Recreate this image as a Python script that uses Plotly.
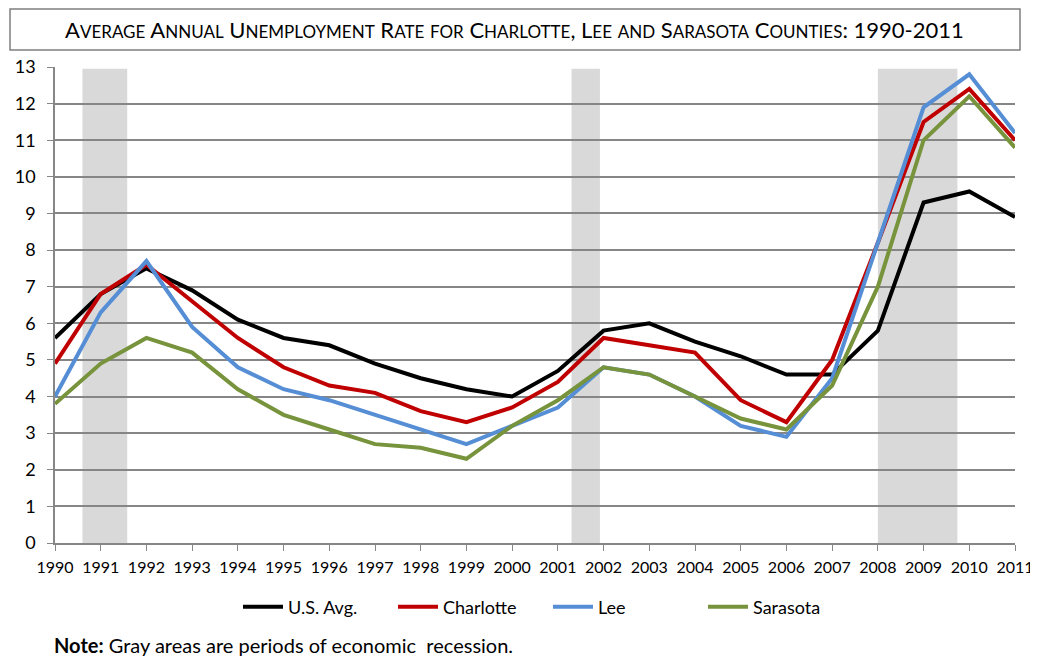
import plotly.graph_objects as go

years = list(range(1990, 2012))
us_avg = [5.6, 6.8, 7.5, 6.9, 6.1, 5.6, 5.4, 4.9, 4.5, 4.2, 4.0, 4.7, 5.8, 6.0, 5.5, 5.1, 4.6, 4.6, 5.8, 9.3, 9.6, 8.9]
charlotte = [4.9, 6.8, 7.6, 6.6, 5.6, 4.8, 4.3, 4.1, 3.6, 3.3, 3.7, 4.4, 5.6, 5.4, 5.2, 3.9, 3.3, 5.0, 8.2, 11.5, 12.4, 11.0]
lee = [4.0, 6.3, 7.7, 5.9, 4.8, 4.2, 3.9, 3.5, 3.1, 2.7, 3.2, 3.7, 4.8, 4.6, 4.0, 3.2, 2.9, 4.5, 8.2, 11.9, 12.8, 11.2]
sarasota = [3.8, 4.9, 5.6, 5.2, 4.2, 3.5, 3.1, 2.7, 2.6, 2.3, 3.2, 3.9, 4.8, 4.6, 4.0, 3.4, 3.1, 4.3, 7.0, 11.0, 12.2, 10.8]
recession_start = [1990.6, 2001.3, 2008.0]
recession_end = [1991.58, 2001.92, 2009.74]
recession_top = 12.95

series = [("U.S. Avg.", us_avg, "#000000"),
          ("Charlotte", charlotte, "#C00000"),
          ("Lee", lee, "#558ED5"),
          ("Sarasota", sarasota, "#77933C")]

FONT = "Lato, 'Open Sans', sans-serif"

# page offset of 8px (body margin) is compensated in the margins
L, T, R, B = 47, 59, 31, 125
W, H = 1038, 660
PW = W - L - R
PH = H - T - B

def px_x(px):
    return (px - 8 - L) / PW

def px_y(py):
    return (H - B + 8 - py) / PH

def small_caps(text, big=22, small=17):
    out = []
    for ch in text:
        if ch.isalpha() and ch.islower():
            out.append(f"<span style='font-size:{small}px'>{ch.upper()}</span>")
        else:
            out.append(f"<span style='font-size:{big}px'>{ch}</span>")
    return "".join(out)

title_text = "Average Annual Unemployment Rate for Charlotte, Lee and Sarasota Counties: 1990-2011"

fig = go.Figure()
for s, e in zip(recession_start, recession_end):
    fig.add_shape(type="rect", x0=s, x1=e, y0=0, y1=recession_top,
                  xref="x", yref="y", fillcolor="#D9D9D9", line=dict(width=0), layer="below")

for name, vals, col in series:
    fig.add_trace(go.Scatter(x=years, y=vals, name=name, mode="lines",
                             line=dict(color=col, width=4), cliponaxis=False))

# title box
fig.add_shape(type="rect", xref="paper", yref="paper",
              x0=px_x(10), x1=px_x(1020), y0=px_y(50), y1=px_y(9),
              line=dict(color="#7F7F7F", width=1.5), fillcolor="rgba(0,0,0,0)")
fig.add_annotation(text=small_caps(title_text), xref="paper", yref="paper",
                   x=px_x(514), y=px_y(29), showarrow=False,
                   xanchor="center", yanchor="middle",
                   font=dict(family=FONT, size=22, color="#000000"))
fig.add_annotation(text="<b>Note:</b> Gray areas are periods of economic  recession.",
                   xref="paper", yref="paper", x=px_x(52), y=px_y(645),
                   showarrow=False, xanchor="left", yanchor="middle",
                   font=dict(family=FONT, size=20, color="#000000"))

fig.update_layout(
    width=W, height=H,
    margin=dict(l=L, r=R, t=T, b=B),
    paper_bgcolor="white", plot_bgcolor="white",
    font=dict(family=FONT, color="#000000"),
    showlegend=True,
    legend=dict(orientation="h", x=px_x(238), xanchor="left", y=px_y(607), yanchor="middle",
                font=dict(family=FONT, size=18), itemwidth=40, tracegroupgap=0,
                entrywidth=100, entrywidthmode="pixels"),
    xaxis=dict(range=[1990, 2011], tickmode="array", tickvals=years,
               ticktext=[str(y) for y in years], showgrid=False, zeroline=False,
               showline=True, linecolor="#868686", linewidth=1.5,
               ticks="outside", ticklen=6, tickcolor="#868686",
               tickfont=dict(size=16, family=FONT), fixedrange=True,
               ticklabelstandoff=3, automargin=False),
    yaxis=dict(range=[0, 13], dtick=1, tick0=0, showgrid=True, gridcolor="#868686",
               gridwidth=1.5, zeroline=False, showline=True, linecolor="#868686",
               linewidth=1.5, ticks="outside", ticklen=6, tickcolor="#868686",
               tickfont=dict(size=18, family=FONT), fixedrange=True,
               ticklabelstandoff=8, automargin=False),
)

fig.write_html("out.html")
